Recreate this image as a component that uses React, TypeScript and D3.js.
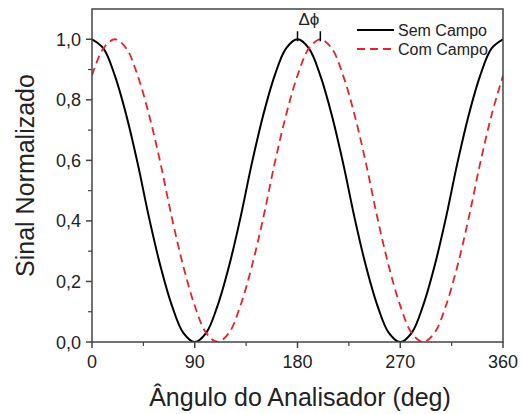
import React from "react";
import * as d3 from "d3";

// angles (deg) sampled every 10
const angles = d3.range(0, 361, 10);
const semCampo = [
  1.0, 0.97, 0.88, 0.75, 0.59, 0.41, 0.25, 0.12, 0.03, 0.0, 0.03, 0.12, 0.25, 0.41, 0.59, 0.75, 0.88, 0.97,
  1.0, 0.97, 0.88, 0.75, 0.59, 0.41, 0.25, 0.12, 0.03, 0.0, 0.03, 0.12, 0.25, 0.41, 0.59, 0.75, 0.88, 0.97, 1.0,
];
const comCampo = [
  0.88, 0.97, 1.0, 0.97, 0.88, 0.75, 0.59, 0.41, 0.25, 0.12, 0.03, 0.0, 0.03, 0.12, 0.25, 0.41, 0.59, 0.75,
  0.88, 0.97, 1.0, 0.97, 0.88, 0.75, 0.59, 0.41, 0.25, 0.12, 0.03, 0.0, 0.03, 0.12, 0.25, 0.41, 0.59, 0.75, 0.88,
];
const xTicks = [0, 90, 180, 270, 360];
const xMinor = [45, 135, 225, 315];
const yTicks = [0, 0.2, 0.4, 0.6, 0.8, 1.0];
const yMinor = [0.1, 0.3, 0.5, 0.7, 0.9];
const peaks = [180, 200];

const W = 522;
const H = 414;
const m = { left: 92, right: 19, top: 9, bottom: 72 };
const font = "'Liberation Sans', Arial, sans-serif";

export default function App() {
  const x = d3.scaleLinear().domain([0, 360]).range([m.left, W - m.right]);
  const y = d3.scaleLinear().domain([0, 1.1]).range([H - m.bottom, m.top]);
  const line = d3
    .line<number>()
    .x((_, i) => x(angles[i]))
    .y((d) => y(d))
    .curve(d3.curveCatmullRom);
  const y0 = y(0);
  const axisColor = "#444";
  return (
    <svg width={W} height={H} style={{ position: "absolute", left: 0, top: 0 }} fontFamily={font}>
      <rect x={0} y={0} width={W} height={H} fill="#fff" />
      <defs>
        <clipPath id="plot">
          <rect x={m.left} y={m.top} width={W - m.left - m.right} height={H - m.top - m.bottom} />
        </clipPath>
      </defs>
      <g clipPath="url(#plot)">
        <path d={line(semCampo) ?? ""} fill="none" stroke="#000" strokeWidth={2} />
        <path d={line(comCampo) ?? ""} fill="none" stroke="#e3242b" strokeWidth={1.8} strokeDasharray="8,5" />
      </g>
      <rect
        x={m.left}
        y={m.top}
        width={W - m.left - m.right}
        height={H - m.top - m.bottom}
        fill="none"
        stroke={axisColor}
        strokeWidth={1.5}
      />
      {xTicks.map((t) => (
        <g key={"x" + t}>
          <line x1={x(t)} x2={x(t)} y1={y0} y2={y0 + 6} stroke={axisColor} strokeWidth={1.5} />
          <text x={x(t)} y={y0 + 26} textAnchor="middle" fontSize={18} fill="#222">
            {t}
          </text>
        </g>
      ))}
      {xMinor.map((t) => (
        <line key={"xm" + t} x1={x(t)} x2={x(t)} y1={y0} y2={y0 + 4} stroke={axisColor} strokeWidth={1.2} />
      ))}
      {yTicks.map((t) => (
        <g key={"y" + t}>
          <line x1={m.left - 6} x2={m.left} y1={y(t)} y2={y(t)} stroke={axisColor} strokeWidth={1.5} />
          <text x={m.left - 11} y={y(t) + 6.5} textAnchor="end" fontSize={18} fill="#222">
            {t.toFixed(1).replace(".", ",")}
          </text>
        </g>
      ))}
      {yMinor.map((t) => (
        <line key={"ym" + t} x1={m.left - 4} x2={m.left} y1={y(t)} y2={y(t)} stroke={axisColor} strokeWidth={1.2} />
      ))}
      <text x={300} y={406} textAnchor="middle" fontSize={25} fill="#222">
        Ângulo do Analisador (deg)
      </text>
      <text
        transform={`translate(34,${(m.top + H - m.bottom) / 2}) rotate(-90)`}
        textAnchor="middle"
        fontSize={25}
        fill="#222"
      >
        Sinal Normalizado
      </text>
      {peaks.map((p) => (
        <line key={"p" + p} x1={x(p)} x2={x(p)} y1={y(1) - 8} y2={y(1) + 2} stroke="#000" strokeWidth={1.5} />
      ))}
      <text x={(x(peaks[0]) + x(peaks[1])) / 2} y={25} textAnchor="middle" fontSize={17} fill="#222">
        Δϕ
      </text>
      <line x1={357} x2={394} y1={30} y2={30} stroke="#000" strokeWidth={2} />
      <text x={398} y={35.5} fontSize={16} fill="#222">
        Sem Campo
      </text>
      <line x1={357} x2={394} y1={49} y2={49} stroke="#e3242b" strokeWidth={1.8} strokeDasharray="8,5" />
      <text x={398} y={54.5} fontSize={16} fill="#222">
        Com Campo
      </text>
    </svg>
  );
}
